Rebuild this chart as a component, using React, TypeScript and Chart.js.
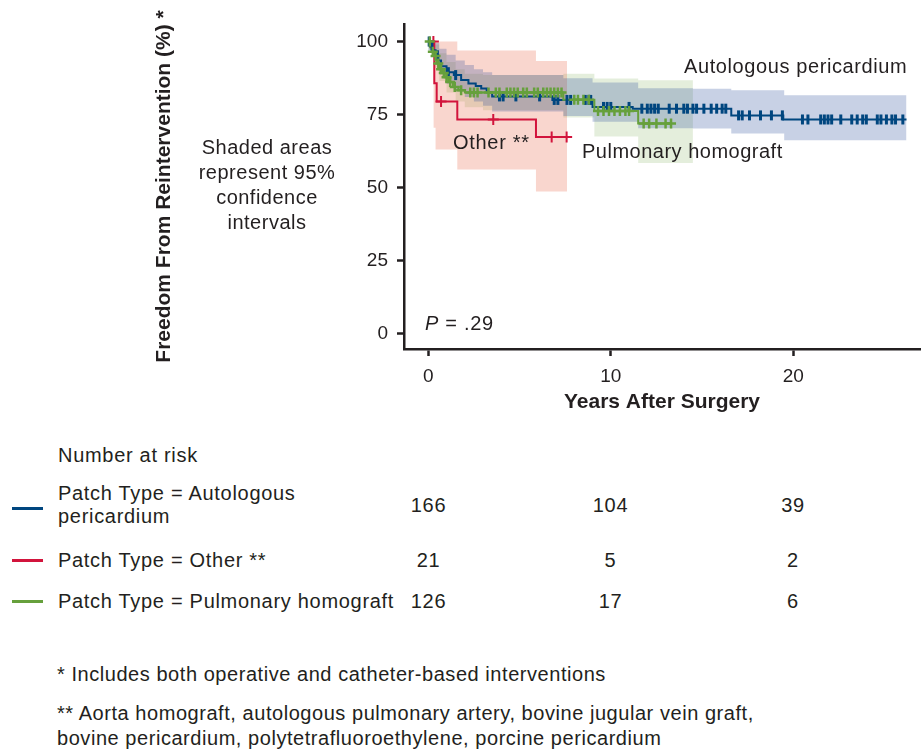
import React, { useEffect, useRef } from "react";
import Chart from "chart.js/auto";

// ---------- data ----------
const xTicks = [0, 10, 20];
const yTicks = [0, 25, 50, 75, 100];

// Kaplan-Meier steps (time of drop, survival after drop)
const autoTimes = [0, 0.1, 0.25, 0.4, 0.55, 0.7, 1.0, 1.4, 1.8, 2.2, 2.6, 2.9, 3.2, 3.5, 6.8, 9.0, 11.2, 16.6, 19.45];
const autoSurv = [100, 98.6, 97, 95.3, 93.5, 91.5, 89.5, 88.5, 86.8, 85.6, 84.8, 83.9, 82.6, 81.2, 80.0, 77.6, 77.0, 74.7, 73.3];
const autoEnd = 26.2;

const otherTimes = [0, 0.33, 0.46, 1.59, 5.9];
const otherSurv = [100, 85.7, 79.5, 73.3, 67.3];
const otherEnd = 7.6;

const pulmTimes = [0, 0.1, 0.2, 0.3, 0.45, 0.6, 0.75, 0.9, 1.1, 1.35, 1.65, 2.0, 7.4, 9.1, 11.5];
const pulmSurv = [100, 98, 96.5, 95, 92.5, 90.5, 89.2, 87.8, 86.1, 84.4, 83.3, 82.5, 80.1, 76.2, 71.9];
const pulmEnd = 13.3;

// censoring times
const autoCensor = [0.05, 0.2, 0.5, 1.1, 1.5, 3.9, 4.1, 4.8, 6.1, 6.9, 7.1, 7.6, 7.8, 8.6, 8.8, 8.9, 9.6, 9.8, 10.0, 11.0, 11.7, 12.0, 12.2, 12.4, 12.6, 13.2, 13.6, 14.0, 14.2, 14.5, 14.7, 15.1, 15.5, 15.8, 16.1, 16.3, 17.0, 17.2, 17.6, 18.2, 18.8, 19.4, 20.5, 20.8, 21.5, 21.7, 21.9, 22.1, 22.6, 23.2, 23.5, 23.8, 24.0, 24.6, 24.8, 25.1, 25.4, 25.6, 26.0];
const otherCensor = [0.28, 0.7, 3.56, 6.76, 7.58];
const pulmCensor = [0.08, 0.25, 0.4, 0.55, 0.7, 0.85, 1.0, 1.2, 1.45, 1.8, 2.3, 2.5, 2.7, 3.3, 3.7, 3.9, 4.3, 4.5, 4.7, 4.9, 5.2, 5.4, 5.8, 6.0, 6.3, 6.5, 6.7, 6.9, 7.1, 7.3, 8.0, 8.2, 8.5, 8.8, 9.3, 9.6, 9.9, 10.2, 10.5, 10.8, 11.0, 11.8, 12.1, 12.5, 13.0, 13.3];

// 95% confidence bands (step)
const autoBandT = [0, 0.3, 0.6, 1.0, 1.5, 2.0, 2.5, 3.0, 3.5, 7.4, 9.0, 11.5, 14.5, 16.6, 19.5, 26.2];
const autoBandU = [100, 99.5, 97.5, 95.5, 93.5, 92, 90.5, 89.5, 88.5, 87.4, 86, 84, 83.8, 83.3, 81.6, 81.6];
const autoBandL = [97, 93, 89, 85.5, 83, 81, 79.5, 78, 76, 74.5, 72.5, 70.3, 70.2, 68.5, 66.2, 66.2];

const otherBandT = [0.28, 0.4, 1.59, 5.9, 7.6];
const otherBandU = [100, 100, 96.9, 93.3, 93.3];
const otherBandL = [70.5, 63, 56.2, 48.6, 48.6];

const pulmBandT = [0, 0.3, 0.6, 1.0, 1.5, 2.0, 3.0, 7.4, 9.1, 11.5, 14.5];
const pulmBandU = [100, 99, 96, 93, 90.5, 89, 88.5, 89, 87.3, 86.7, 86.7];
const pulmBandL = [97, 91, 86.5, 82.5, 79.5, 77.5, 76.5, 74, 67.5, 58.4, 58.4];

// number at risk
const riskAuto = [166, 104, 39];
const riskOther = [21, 5, 2];
const riskPulm = [126, 17, 6];

// ---------- styles ----------
const FONT = '"Liberation Sans", Arial, Helvetica, sans-serif';
const TXT = "#231f20";
const BLUE = "#00467f";
const RED = "#d2143c";
const GREEN = "#66a03c";
const BLUE_BAND = "rgba(35,70,150,0.25)";
const RED_BAND = "rgba(232,95,65,0.26)";
const GREEN_BAND = "rgba(120,170,80,0.2)";

function stepValue(times: number[], surv: number[], t: number) {
  let v = surv[0];
  for (let i = 0; i < times.length; i++) if (times[i] <= t) v = surv[i];
  return v;
}
function stepLine(times: number[], surv: number[], end: number) {
  const p = times.map((t, i) => ({ x: t, y: surv[i] }));
  p.push({ x: end, y: surv[surv.length - 1] });
  return p;
}
function pts(times: number[], vals: number[]) {
  return times.map((t, i) => ({ x: t, y: vals[i] }));
}
function censorPts(c: number[], times: number[], surv: number[]) {
  return c.map((t) => ({ x: t, y: stepValue(times, surv, t) }));
}

function bandSets(t: number[], u: number[], l: number[], color: string) {
  return [
    { data: pts(t, u), stepped: true, borderWidth: 0, pointRadius: 0, fill: "+1", backgroundColor: color, order: 10 },
    { data: pts(t, l), stepped: true, borderWidth: 0, pointRadius: 0, fill: false, order: 10 },
  ];
}

const textBase: React.CSSProperties = {
  position: "absolute",
  fontFamily: FONT,
  fontSize: 20,
  lineHeight: "20px",
  letterSpacing: "0.7px",
  color: TXT,
  whiteSpace: "nowrap",
};

function T(props: { left: number; top: number; children: React.ReactNode; style?: React.CSSProperties }) {
  return <div style={{ ...textBase, left: props.left, top: props.top, ...(props.style || {}) }}>{props.children}</div>;
}
function Num(props: { cx: number; top: number; v: number }) {
  return (
    <div style={{ ...textBase, left: props.cx - 40, top: props.top, width: 80, textAlign: "center" }}>{props.v}</div>
  );
}

export default function App() {
  const ref = useRef<HTMLCanvasElement | null>(null);

  useEffect(() => {
    if (!ref.current) return;
    const chart = new Chart(ref.current, {
      type: "line",
      data: {
        datasets: [
          { data: censorPts(autoCensor, autoTimes, autoSurv), showLine: false, pointStyle: "line", rotation: 90, pointRadius: 5, pointBorderWidth: 3, borderColor: BLUE, backgroundColor: BLUE, order: 1 } as any,
          { data: censorPts(otherCensor, otherTimes, otherSurv), showLine: false, pointStyle: "cross", pointRadius: 5.5, pointBorderWidth: 2, borderColor: RED, backgroundColor: RED, order: 1 },
          { data: censorPts(pulmCensor, pulmTimes, pulmSurv), showLine: false, pointStyle: "cross", pointRadius: 5, pointBorderWidth: 2.5, borderColor: GREEN, backgroundColor: GREEN, order: 0 },
          { data: stepLine(autoTimes, autoSurv, autoEnd), stepped: true, borderColor: BLUE, borderWidth: 2, pointRadius: 0, fill: false, order: 2 },
          { data: stepLine(otherTimes, otherSurv, otherEnd), stepped: true, borderColor: RED, borderWidth: 2, pointRadius: 0, fill: false, order: 2 },
          { data: stepLine(pulmTimes, pulmSurv, pulmEnd), stepped: true, borderColor: GREEN, borderWidth: 2, pointRadius: 0, fill: false, order: 1 },
          ...bandSets(autoBandT, autoBandU, autoBandL, BLUE_BAND),
          ...bandSets(otherBandT, otherBandU, otherBandL, RED_BAND),
          ...bandSets(pulmBandT, pulmBandU, pulmBandL, GREEN_BAND),
        ] as any,
      },
      options: {
        responsive: false,
        animation: false,
        devicePixelRatio: 1,
        layout: { autoPadding: false, padding: { left: 149, top: 24, right: 1, bottom: 0 } },
        plugins: { legend: { display: false }, tooltip: { enabled: false } },
        scales: {
          x: {
            type: "linear",
            min: -1.33,
            max: 26.94,
            afterBuildTicks: (s: any) => {
              s.ticks = xTicks.map((v) => ({ value: v }));
            },
            afterFit: (s: any) => {
              s.height = 71;
              s.paddingLeft = 0;
              s.paddingRight = 0;
            },
            grid: { drawOnChartArea: false, drawTicks: true, tickLength: 7, tickWidth: 2.5, tickColor: TXT },
            border: { display: true, width: 2.5, color: TXT },
            ticks: { font: { size: 19, family: FONT }, color: TXT, padding: 9, maxRotation: 0 },
            title: { display: true, text: "Years After Surgery", font: { size: 21, weight: "bold", family: FONT }, color: TXT, padding: { top: 0, bottom: 5 } },
          },
          y: {
            type: "linear",
            min: -5.3,
            max: 106,
            afterBuildTicks: (s: any) => {
              s.ticks = yTicks.map((v) => ({ value: v }));
            },
            afterFit: (s: any) => {
              s.width = 255;
              s.paddingTop = 0;
              s.paddingBottom = 0;
            },
            grid: { drawOnChartArea: false, drawTicks: true, tickLength: 7, tickWidth: 2.5, tickColor: TXT },
            border: { display: true, width: 2.5, color: TXT },
            ticks: { font: { size: 19, family: FONT }, color: TXT, padding: 9 },
            title: { display: true, text: "Freedom From Reintervention (%) *", font: { size: 21, weight: "bold", family: FONT }, color: TXT, padding: { top: 3, bottom: 0 } },
          },
        },
      } as any,
    });
    return () => chart.destroy();
  }, []);

  const legendLine = (color: string, top: number) => (
    <div style={{ position: "absolute", left: 12, top: top - 1.5, width: 31, height: 3, background: color }} />
  );

  const foot: React.CSSProperties = { letterSpacing: "0.55px" };

  return (
    <div style={{ position: "absolute", left: 0, top: 0, width: 921, height: 753, background: "#fff", overflow: "hidden" }}>
      <canvas ref={ref} width={921} height={420} style={{ position: "absolute", left: 0, top: 0, width: 921, height: 420 }} />

      {/* side note */}
      <div style={{ ...textBase, left: 167, top: 135, width: 200, lineHeight: "25px", textAlign: "center", letterSpacing: "0.5px" }}>
        Shaded areas
        <br />
        represent 95%
        <br />
        confidence
        <br />
        intervals
      </div>

      {/* in-plot labels */}
      <T left={684} top={56} style={{ letterSpacing: "0.6px" }}>Autologous pericardium</T>
      <T left={453} top={132}>Other **</T>
      <T left={582} top={141} style={{ letterSpacing: "0.5px" }}>Pulmonary homograft</T>
      <T left={425} top={313}>
        <i>P</i> = .29
      </T>

      {/* number at risk */}
      <T left={58} top={445}>Number at risk</T>
      {legendLine(BLUE, 508)}
      <T left={58} top={483}>Patch Type = Autologous</T>
      <T left={58} top={506}>pericardium</T>
      <Num cx={428.5} top={495} v={riskAuto[0]} />
      <Num cx={610.5} top={495} v={riskAuto[1]} />
      <Num cx={793} top={495} v={riskAuto[2]} />

      {legendLine(RED, 560)}
      <T left={58} top={550}>Patch Type = Other **</T>
      <Num cx={428.5} top={550} v={riskOther[0]} />
      <Num cx={610.5} top={550} v={riskOther[1]} />
      <Num cx={793} top={550} v={riskOther[2]} />

      {legendLine(GREEN, 601)}
      <T left={58} top={591}>Patch Type = Pulmonary homograft</T>
      <Num cx={428.5} top={591} v={riskPulm[0]} />
      <Num cx={610.5} top={591} v={riskPulm[1]} />
      <Num cx={793} top={591} v={riskPulm[2]} />

      {/* footnotes */}
      <T left={57} top={664} style={foot}>* Includes both operative and catheter-based interventions</T>
      <T left={57} top={703} style={foot}>** Aorta homograft, autologous pulmonary artery, bovine jugular vein graft,</T>
      <T left={57} top={728} style={foot}>bovine pericardium, polytetrafluoroethylene, porcine pericardium</T>
    </div>
  );
}
